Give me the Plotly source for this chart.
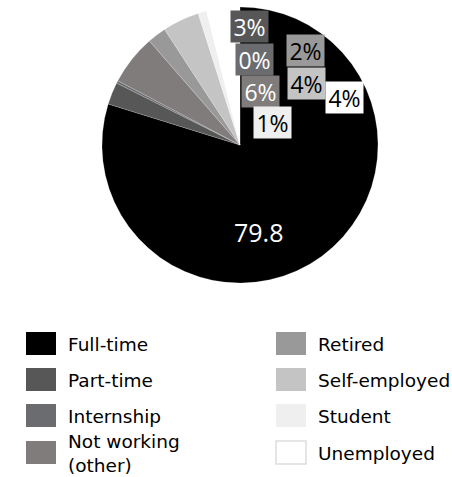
import plotly.graph_objects as go

# Employment status breakdown (percent of respondents)
categories = ["Full-time", "Part-time", "Internship", "Not working<br>(other)",
              "Retired", "Self-employed", "Student", "Unemployed"]
values = [79.8, 2.6, 0.3, 5.9, 2.2, 4.3, 1.0, 3.9]
colors = ["#000000", "#575757", "#6b6c70", "#807c7b",
          "#999999", "#c4c4c4", "#efefef", "#ffffff"]
text_colors = ["#ffffff", "#ffffff", "#ffffff", "#ffffff",
               "#000000", "#000000", "#000000", "#000000"]

W, H = 452, 477

# label box centres (pixels) for each slice value
label_pos = [(258, 232), (249.5, 26.5), (254.5, 59), (260.5, 91.5),
             (305.5, 50.5), (306.5, 83), (272.5, 123), (344.5, 97)]

cx, cy, r = 240, 145, 138

fig = go.Figure(go.Pie(
    labels=categories,
    values=values,
    sort=False,
    direction="clockwise",
    rotation=0,
    marker=dict(colors=colors, line=dict(color="rgba(255,255,255,0.35)", width=0.5)),
    textinfo="none",
    hoverinfo="label+value",
    showlegend=False,
    domain=dict(x=[(cx - r) / W, (cx + r) / W],
                y=[1 - (cy + r) / H, 1 - (cy - r) / H]),
))

annotations = []
for i, (v, (px, py)) in enumerate(zip(values, label_pos)):
    if i == 0:
        annotations.append(dict(
            x=px / W, y=1 - py / H, xref="paper", yref="paper",
            text=f"{v:g}", showarrow=False,
            font=dict(family="Open Sans", size=25, color=text_colors[i]),
            xanchor="center", yanchor="middle"))
    else:
        annotations.append(dict(
            x=px / W, y=1 - py / H, xref="paper", yref="paper",
            text=f"{round(v):d}%", showarrow=False,
            font=dict(family="Open Sans", size=23, color=text_colors[i]),
            bgcolor=colors[i], width=37, height=31, borderpad=0,
            xanchor="center", yanchor="middle"))

# two-column legend drawn beside colour swatches
shapes = []
col_x = [26, 276]
row_y = [332, 368, 404, 441]
for i, (name, col) in enumerate(zip(categories, colors)):
    c, rr = divmod(i, 4)
    x0, y0 = col_x[c], row_y[rr]
    shapes.append(dict(
        type="rect", xref="paper", yref="paper",
        x0=x0 / W, x1=(x0 + 30) / W, y0=1 - (y0 + 23) / H, y1=1 - y0 / H,
        fillcolor=col,
        line=dict(color="#dddddd" if col == "#ffffff" else col, width=1.5 if col == "#ffffff" else 0)))
    annotations.append(dict(
        x=(x0 + 40) / W, y=1 - (y0 + 12) / H, xref="paper", yref="paper",
        text=name, showarrow=False, align="left",
        font=dict(family="DejaVu Sans", size=18.5, color="#000000"),
        xanchor="left", yanchor="middle"))

fig.update_layout(
    width=W, height=H,
    margin=dict(l=0, r=0, t=0, b=0),
    paper_bgcolor="#ffffff",
    plot_bgcolor="#ffffff",
    annotations=annotations,
    shapes=shapes,
)

fig.write_html("out.html")
